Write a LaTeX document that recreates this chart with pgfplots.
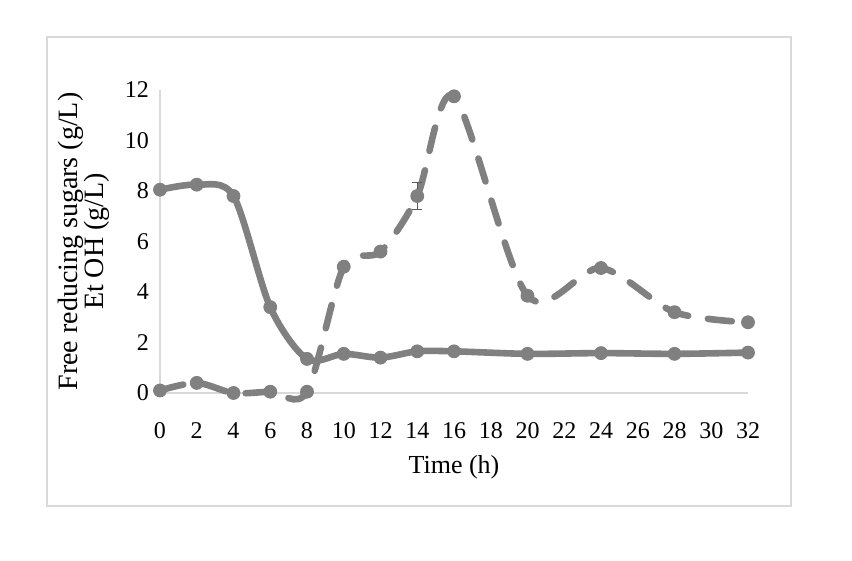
\documentclass[border=0pt]{standalone}
\usepackage{pgfplots}
\pgfplotsset{compat=1.18}
\usepackage{fontspec}
\setmainfont{Liberation Serif}

\definecolor{linegray}{RGB}{128,128,128}
\definecolor{axisgray}{RGB}{217,217,217}
\definecolor{errgray}{RGB}{90,90,90}

\begin{document}
\begin{tikzpicture}
% picture 852x561 px at 0.5pt per px
\useasboundingbox (0,0) rectangle (426pt,280.5pt);
\draw[axisgray, line width=0.8pt] (23.5pt,27.5pt) rectangle (395.5pt,262pt);

\begin{axis}[
    at={(80pt,84pt)}, anchor=south west,
    scale only axis,
    width=294pt, height=151.5pt,
    xmin=0, xmax=32, ymin=0, ymax=12,
    xtick={0,2,...,32}, ytick={0,2,...,12},
    axis lines=left,
    axis line style={axisgray, line width=0.8pt, -},
    major tick length=0pt,
    clip=false,
    tick label style={font=\fontsize{12}{13}\selectfont},
    /pgf/number format/assume math mode=true,
    xticklabel style={anchor=base, yshift=-23pt},
    yticklabel style={anchor=base east, yshift=-4pt, xshift=-2pt},
    xlabel={Time (h)},
    xlabel style={font=\fontsize{13}{15}\selectfont, at={(axis description cs:0.5,0)}, anchor=center, yshift=-37pt},
    ylabel={Free reducing sugars (g/L)\\Et OH (g/L)},
    ylabel style={font=\fontsize{14}{13}\selectfont, align=center, at={(axis description cs:0,0.5)}, anchor=center, yshift=38pt},
]

% free reducing sugars
\addplot[linegray, line width=3.3pt, smooth, tension=0.5, line cap=round,
    mark=*, mark size=3.2pt, mark options={solid, fill=linegray, draw=linegray, line width=0.5pt}]
    coordinates {
    (0,8.05) (2,8.25) (4,7.8) (6,3.4) (8,1.35) (10,1.55) (12,1.4)
    (14,1.65) (16,1.65) (20,1.55) (24,1.58) (28,1.55) (32,1.6)
};

% ethanol
\addplot[linegray, line width=3.3pt, smooth, tension=0.5, line cap=round,
    dash pattern=on 12pt off 10pt,
    mark=*, mark size=3.2pt, mark options={solid, fill=linegray, draw=linegray, line width=0.5pt},
    error bars/.cd, y dir=both, y explicit,
    error bar style={errgray, line width=0.6pt, solid},
    error mark options={errgray, line width=0.6pt, mark size=2.5pt, rotate=90, solid}]
    coordinates {
    (0,0.1) +- (0,0) (2,0.4) +- (0,0) (4,0.0) +- (0,0) (6,0.05) +- (0,0)
    (8,0.05) +- (0,0) (10,5.0) +- (0,0) (12,5.6) +- (0,0) (14,7.8) +- (0,0.53)
    (16,11.75) +- (0,0) (20,3.85) +- (0,0) (24,4.95) +- (0,0) (28,3.2) +- (0,0)
    (32,2.8) +- (0,0)
};
\end{axis}
\end{tikzpicture}
\end{document}
